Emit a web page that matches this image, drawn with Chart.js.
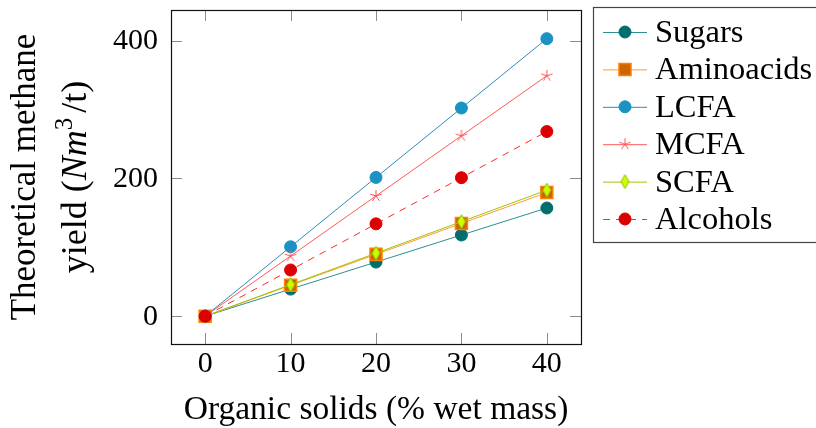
<!DOCTYPE html>
<html>
<head>
<meta charset="utf-8">
<script src="https://cdn.jsdelivr.net/npm/chart.js@4.4.0/dist/chart.umd.min.js"></script>
<style>
  html, body { margin: 0; padding: 0; background: #fff; }
  canvas { display: block; }
</style>
</head>
<body>
<canvas id="myChart" width="816" height="428"></canvas>
<script>
// values
const organicSolids = [0, 10, 20, 30, 40];
const sugars = [0, 39.3, 78.5, 117.8, 157];
const aminoacids = [0, 44.9, 89.7, 134.6, 179.4];
const lcfa = [0, 100.7, 201.4, 302.1, 402.8];
const mcfa = [0, 87.3, 174.5, 261.8, 349];
const scfa = [0, 45.7, 91.5, 137.2, 183];
const alcohols = [0, 67, 134, 201, 268];

const seriesNames = ["Sugars", "Aminoacids", "LCFA", "MCFA", "SCFA", "Alcohols"];
const xTickValues = [0, 10, 20, 30, 40];
const yTickValues = [0, 200, 400];

const serif = "'Liberation Serif', 'DejaVu Serif', serif";

// pgfplots-like star (5 spokes) and tall diamond as little canvases
const makeStar = (color) => {
  const c = document.createElement("canvas");
  c.width = 14; c.height = 14;
  const g = c.getContext("2d");
  g.strokeStyle = color;
  g.lineWidth = 1;
  for (let k = 0; k < 5; k++) {
    const a = -Math.PI / 2 + k * 2 * Math.PI / 5;
    g.beginPath();
    g.moveTo(7, 7);
    g.lineTo(7 + 6 * Math.cos(a), 7 + 6 * Math.sin(a));
    g.stroke();
  }
  return c;
};
const makeDiamond = (fill, stroke) => {
  const c = document.createElement("canvas");
  c.width = 11; c.height = 16;
  const g = c.getContext("2d");
  g.beginPath();
  g.moveTo(5.5, 1); g.lineTo(9.5, 8); g.lineTo(5.5, 15); g.lineTo(1.5, 8);
  g.closePath();
  g.fillStyle = fill; g.fill();
  g.strokeStyle = stroke; g.lineWidth = 1; g.stroke();
  return c;
};

const toPoints = (arr) => arr.map((v, i) => ({ x: organicSolids[i], y: v }));

const datasets = [
  { label: seriesNames[0], data: toPoints(sugars), borderColor: "#2a9090", pointBackgroundColor: "#006e6e", pointBorderColor: "#006e6e", pointStyle: "circle", pointRadius: 6, pointBorderWidth: 1 },
  { label: seriesNames[1], data: toPoints(aminoacids), borderColor: "#ff9a3a", pointBackgroundColor: "#cc6400", pointBorderColor: "#ff8000", pointStyle: "rect", pointRadius: 8.5, pointBorderWidth: 1.5 },
  { label: seriesNames[2], data: toPoints(lcfa), borderColor: "#2e8cb8", pointBackgroundColor: "#1b92c4", pointBorderColor: "#1b92c4", pointStyle: "circle", pointRadius: 6, pointBorderWidth: 1 },
  { label: seriesNames[3], data: toPoints(mcfa), borderColor: "#ff5a5a", pointBackgroundColor: "#ff5050", pointBorderColor: "#ff5050", pointStyle: makeStar("#ff5050"), pointRadius: 7, pointBorderWidth: 1 },
  { label: seriesNames[4], data: toPoints(scfa), borderColor: "#a2c400", pointBackgroundColor: "#ccff00", pointBorderColor: "#99c400", pointStyle: makeDiamond("#ccff00", "#8fbf00"), pointRadius: 7, pointBorderWidth: 1 },
  { label: seriesNames[5], data: toPoints(alcohols), borderColor: "#ff2a2a", borderDash: [7, 6], pointBackgroundColor: "#dc0000", pointBorderColor: "#dc0000", pointStyle: "circle", pointRadius: 6, pointBorderWidth: 1 },
];
datasets.forEach((ds, i) => {
  ds.borderWidth = 1;
  ds.fill = false;
  ds.tension = 0;
  ds.order = datasets.length - i; // later series on top, like pgfplots
  ds.pointHoverRadius = ds.pointRadius;
});

// box around the axis + inward tick marks on all four sides
const framePlugin = {
  id: "frame",
  beforeDatasetsDraw(chart) {
    const ctx = chart.ctx;
    const a = chart.chartArea;
    const xs = chart.scales.x, ys = chart.scales.y;
    const tl = 11;
    ctx.save();
    ctx.strokeStyle = "#8c8c8c";
    ctx.lineWidth = 1;
    ctx.beginPath();
    xTickValues.forEach((v) => {
      const px = Math.round(xs.getPixelForValue(v)) + 0.5;
      ctx.moveTo(px, a.bottom); ctx.lineTo(px, a.bottom - tl);
      ctx.moveTo(px, a.top); ctx.lineTo(px, a.top + tl);
    });
    yTickValues.forEach((v) => {
      const py = Math.round(ys.getPixelForValue(v)) + 0.5;
      ctx.moveTo(a.left, py); ctx.lineTo(a.left + tl, py);
      ctx.moveTo(a.right, py); ctx.lineTo(a.right - tl, py);
    });
    ctx.stroke();
    ctx.strokeStyle = "#111";
    ctx.lineWidth = 1.2;
    ctx.strokeRect(a.left + 0.5, a.top + 0.5, a.right - a.left, a.bottom - a.top);
    ctx.restore();
  },
};

// axis titles (y title has italic Nm and superscript 3)
const titlesPlugin = {
  id: "titles",
  afterDraw(chart) {
    const ctx = chart.ctx;
    ctx.save();
    ctx.fillStyle = "#000";
    ctx.textBaseline = "alphabetic";
    ctx.font = "33.5px " + serif;
    ctx.textAlign = "center";
    ctx.fillText("Organic solids (% wet mass)", 376, 419);

    const cy = 177;
    ctx.save();
    ctx.translate(35, cy);
    ctx.rotate(-Math.PI / 2);
    ctx.font = "35px " + serif;
    ctx.fillText("Theoretical methane", 0, 0);
    ctx.restore();

    const parts = [
      { t: "yield (", f: "36px " + serif, dy: 0 },
      { t: "Nm", f: "italic 36px " + serif, dy: 0 },
      { t: "3", f: "25px " + serif, dy: -14 },
      { t: "/t)", f: "36px " + serif, dy: 0 },
    ];
    let total = 0;
    parts.forEach((p) => { ctx.font = p.f; p.w = ctx.measureText(p.t).width; total += p.w; });
    total += 5;
    ctx.save();
    ctx.translate(86, cy);
    ctx.rotate(-Math.PI / 2);
    ctx.textAlign = "left";
    let x = -total / 2;
    parts.forEach((p, i) => {
      ctx.font = p.f;
      ctx.fillText(p.t, x, p.dy);
      x += p.w + (i === 2 ? 5 : 0);
    });
    ctx.restore();
    ctx.restore();
  },
};

// boxed legend to the right of the axis
const boxLegendPlugin = {
  id: "boxLegend",
  afterDraw(chart) {
    const ctx = chart.ctx;
    ctx.save();
    ctx.strokeStyle = "#444";
    ctx.lineWidth = 1.2;
    ctx.strokeRect(593.5, 7.5, 240, 235);
    chart.data.datasets.forEach((ds, i) => {
      const y = 32 + i * 37.4;
      ctx.beginPath();
      ctx.setLineDash(ds.borderDash || []);
      ctx.strokeStyle = ds.borderColor;
      ctx.lineWidth = 1;
      ctx.moveTo(603, y + 0.5);
      ctx.lineTo(647, y + 0.5);
      ctx.stroke();
      ctx.setLineDash([]);
      ctx.fillStyle = ds.pointBackgroundColor;
      ctx.strokeStyle = ds.pointBorderColor;
      ctx.lineWidth = ds.pointBorderWidth;
      Chart.helpers.drawPoint(ctx, { pointStyle: ds.pointStyle, radius: ds.pointRadius, borderWidth: ds.pointBorderWidth, rotation: 0 }, 625, y);
      ctx.fillStyle = "#000";
      ctx.font = "32.5px " + serif;
      ctx.textAlign = "left";
      ctx.textBaseline = "alphabetic";
      ctx.fillText(ds.label, 655, y + 10);
    });
    ctx.restore();
  },
};

const noPad = (scale) => {
  scale.paddingTop = 0;
  scale.paddingBottom = 0;
  scale.paddingLeft = 0;
  scale.paddingRight = 0;
};

const ctx = document.getElementById("myChart").getContext("2d");
const myChart = new Chart(ctx, {
  type: "line",
  data: { datasets: datasets },
  options: {
    responsive: false,
    animation: false,
    devicePixelRatio: 1,
    layout: { padding: { left: 0, top: 7, right: 235, bottom: 0 } },
    plugins: { legend: { display: false }, tooltip: { enabled: false } },
    scales: {
      x: {
        type: "linear",
        min: -4,
        max: 44,
        afterBuildTicks: (scale) => { scale.ticks = xTickValues.map((v) => ({ value: v })); },
        afterFit: (scale) => { scale.height = 84; noPad(scale); },
        grid: { display: false, drawTicks: false },
        border: { display: false },
        ticks: { color: "#000", padding: 2, font: { family: serif, size: 30 }, maxRotation: 0 },
      },
      y: {
        type: "linear",
        min: -40.4,
        max: 444.4,
        afterBuildTicks: (scale) => { scale.ticks = yTickValues.map((v) => ({ value: v })); },
        afterFit: (scale) => { scale.width = 171; noPad(scale); },
        grid: { display: false, drawTicks: false },
        border: { display: false },
        ticks: { color: "#000", padding: 13, labelOffset: 1, font: { family: serif, size: 30 } },
      },
    },
  },
  plugins: [framePlugin, titlesPlugin, boxLegendPlugin],
});
</script>
</body>
</html>
